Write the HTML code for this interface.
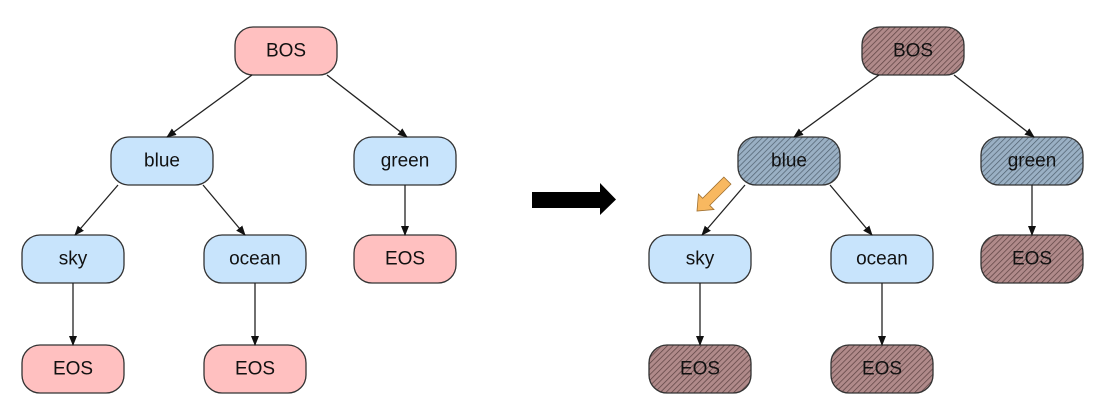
<!DOCTYPE html>
<html><head><meta charset="utf-8"><style>
html,body{margin:0;padding:0;background:#fff}
svg{display:block}
text{font-family:"Liberation Sans",Arial,sans-serif;font-size:19px;fill:#111;text-anchor:middle;dominant-baseline:central}
</style></head><body>
<svg width="1111" height="409" viewBox="0 0 1111 409" xmlns="http://www.w3.org/2000/svg">
<defs>
<marker id="ah" markerWidth="10" markerHeight="10" refX="9" refY="5" orient="auto" markerUnits="userSpaceOnUse">
<path d="M0,1 L10,5 L0,9 Z" fill="#111"/></marker>
<pattern id="hr" width="4" height="4" patternUnits="userSpaceOnUse" patternTransform="rotate(45)">
<rect width="4" height="4" fill="#b08a8a"/><line x1="0" y1="0" x2="0" y2="4" stroke="#5a4040" stroke-width="1.4"/></pattern>
<pattern id="hb" width="4" height="4" patternUnits="userSpaceOnUse" patternTransform="rotate(45)">
<rect width="4" height="4" fill="#9ab0c4"/><line x1="0" y1="0" x2="0" y2="4" stroke="#4f5f6e" stroke-width="1.4"/></pattern>
</defs>
<g stroke="#333" stroke-width="1.3">
<rect x="235" y="27" width="102" height="48" rx="18" fill="#ffc0c0"/>
<rect x="111" y="137" width="102" height="48" rx="18" fill="#c8e4fc"/>
<rect x="354" y="137" width="102" height="48" rx="18" fill="#c8e4fc"/>
<rect x="22" y="235" width="102" height="48" rx="18" fill="#c8e4fc"/>
<rect x="204" y="235" width="102" height="48" rx="18" fill="#c8e4fc"/>
<rect x="354" y="235" width="102" height="48" rx="18" fill="#ffc0c0"/>
<rect x="22" y="345" width="102" height="48" rx="18" fill="#ffc0c0"/>
<rect x="204" y="345" width="102" height="48" rx="18" fill="#ffc0c0"/>
<rect x="862" y="27" width="102" height="48" rx="18" fill="url(#hr)"/>
<rect x="738" y="137" width="102" height="48" rx="18" fill="url(#hb)"/>
<rect x="981" y="137" width="102" height="48" rx="18" fill="url(#hb)"/>
<rect x="649" y="235" width="102" height="48" rx="18" fill="#c8e4fc"/>
<rect x="831" y="235" width="102" height="48" rx="18" fill="#c8e4fc"/>
<rect x="981" y="235" width="102" height="48" rx="18" fill="url(#hr)"/>
<rect x="649" y="345" width="102" height="48" rx="18" fill="url(#hr)"/>
<rect x="831" y="345" width="102" height="48" rx="18" fill="url(#hr)"/>
</g>
<g stroke="#222" stroke-width="1.3" fill="none" marker-end="url(#ah)">
<line x1="252" y1="75" x2="167" y2="137"/>
<line x1="327" y1="75" x2="407" y2="137"/>
<line x1="118" y1="185" x2="75" y2="235"/>
<line x1="203" y1="185" x2="245" y2="235"/>
<line x1="405" y1="185" x2="405" y2="235"/>
<line x1="73" y1="283" x2="73" y2="345"/>
<line x1="255" y1="283" x2="255" y2="345"/>
<line x1="879" y1="75" x2="794" y2="137"/>
<line x1="954" y1="75" x2="1034" y2="137"/>
<line x1="745" y1="185" x2="702" y2="235"/>
<line x1="830" y1="185" x2="872" y2="235"/>
<line x1="1032" y1="185" x2="1032" y2="235"/>
<line x1="700" y1="283" x2="700" y2="345"/>
<line x1="882" y1="283" x2="882" y2="345"/>
</g>
<path d="M532,192 H600 V183 L616,199.5 L600,215 V208 H532 Z" fill="#000"/>
<g transform="translate(697,211) rotate(-45)">
<path d="M0,0 L13,-11 L13,-5 L43,-5 L43,5 L13,5 L13,11 Z" fill="#f8b860" stroke="#a07030" stroke-width="0.8"/>
</g>
<text x="286" y="51">BOS</text>
<text x="162" y="161">blue</text>
<text x="405" y="161">green</text>
<text x="73" y="259">sky</text>
<text x="255" y="259">ocean</text>
<text x="405" y="259">EOS</text>
<text x="73" y="369">EOS</text>
<text x="255" y="369">EOS</text>
<text x="913" y="51">BOS</text>
<text x="789" y="161">blue</text>
<text x="1032" y="161">green</text>
<text x="700" y="259">sky</text>
<text x="882" y="259">ocean</text>
<text x="1032" y="259">EOS</text>
<text x="700" y="369">EOS</text>
<text x="882" y="369">EOS</text>
</svg>
</body></html>
